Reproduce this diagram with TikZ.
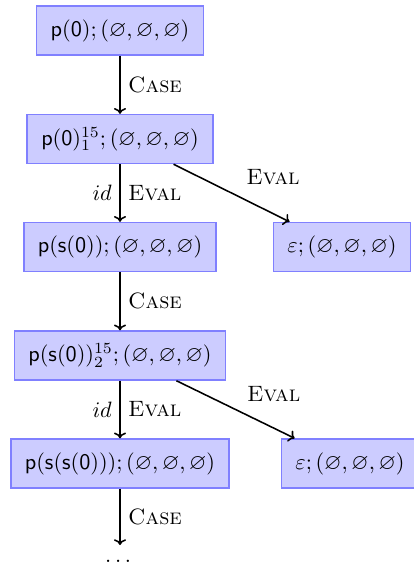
\documentclass[tikz,border=0pt]{standalone}
\usepackage{amsmath, amssymb}
\usepackage{tikz}
\usetikzlibrary{arrows.meta}

\tikzset{
  state/.style={draw=blue!50, fill=blue!20, line width=0.7pt, inner xsep=6.3pt, minimum height=22pt},
  move/.style={line width=0.7pt, -{To[length=2.6pt]}},
}

\begin{document}
\begin{tikzpicture}[x=0.45pt,y=0.45pt,yscale=-1,xscale=1]
\useasboundingbox (0,0) rectangle (414,566);

% Text Node
\node [state] (s0) at (120,30.5) {$\mathsf{p}(\mathsf{0}); (\varnothing, \varnothing, \varnothing)$};
% Text Node
\node [state] (s1) at (120,139) {$\mathsf{p}(\mathsf{0})^{15}_{1}; (\varnothing, \varnothing, \varnothing)$};
% Text Node
\node [state] (s2) at (120,247) {$\mathsf{p}(\mathsf{s}(\mathsf{0})); (\varnothing, \varnothing, \varnothing)$};
% Text Node
\node [state] (e1) at (342,247) {$\varepsilon; (\varnothing, \varnothing, \varnothing)$};
% Text Node
\node [state] (s3) at (120,355.5) {$\mathsf{p}(\mathsf{s}(\mathsf{0}))^{15}_{2}; (\varnothing, \varnothing, \varnothing)$};
% Text Node
\node [state] (s4) at (120,463.5) {$\mathsf{p}(\mathsf{s}(\mathsf{s}(\mathsf{0}))); (\varnothing, \varnothing, \varnothing)$};
% Text Node
\node [state] (e2) at (350,463.5) {$\varepsilon; (\varnothing, \varnothing, \varnothing)$};
% Text Node
\node [anchor=north, inner xsep=1pt, inner ysep=0pt, text height=7.5pt] (more) at (120,545) {$\dots$};

%Straight Lines
\draw [move] (s0) -- node [right] {\textsc{Case}} (s1);
%Straight Lines
\draw [move] (s1) -- node [left] {$id$} node [right] {\textsc{Eval}} (s2);
%Straight Lines
\draw [move] ([xshift=-18pt]s1.south east) -- node [above right, xshift=3pt] {\textsc{Eval}} ([xshift=7.6pt]e1.north west);
%Straight Lines
\draw [move] (s2) -- node [right] {\textsc{Case}} (s3);
%Straight Lines
\draw [move] (s3) -- node [left] {$id$} node [right] {\textsc{Eval}} (s4);
%Straight Lines
\draw [move] ([xshift=-22.5pt]s3.south east) -- node [above right, xshift=1.5pt] {\textsc{Eval}} ([xshift=6.3pt]e2.north west);
%Straight Lines
\draw [move] (s4) -- node [right] {\textsc{Case}} (more);
\end{tikzpicture}
\end{document}
